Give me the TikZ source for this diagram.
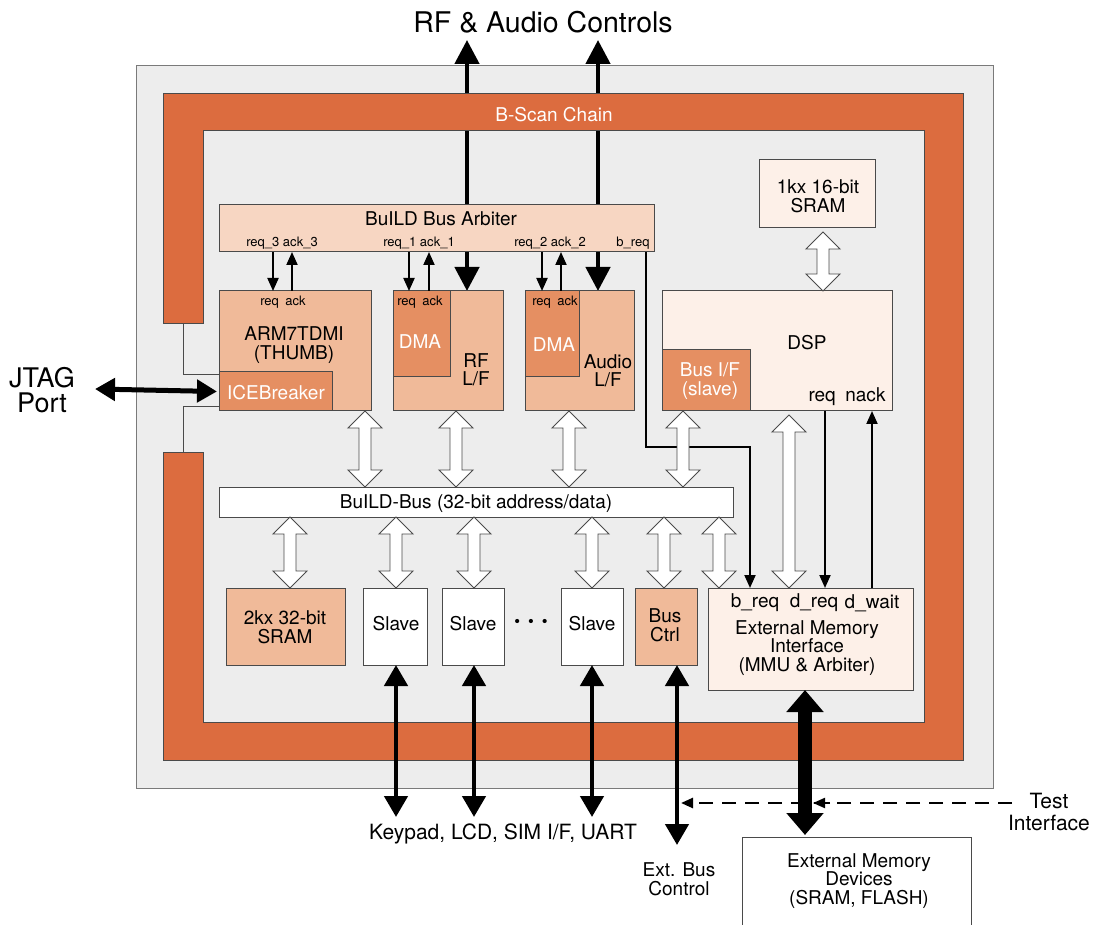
\documentclass[tikz,border=0pt]{standalone}
\usepackage{fontspec}
\setmainfont{TeX Gyre Heros}
\usetikzlibrary{arrows.meta,calc}
\definecolor{bggrey}{HTML}{EDEDED}
\definecolor{bscan}{HTML}{DC6C3F}
\definecolor{arbfill}{HTML}{F7D6C2}
\definecolor{midfill}{HTML}{F0BA99}
\definecolor{darkfill}{HTML}{E58F62}
\definecolor{lightfill}{HTML}{FDF0E8}
\definecolor{edge}{HTML}{4A4A4A}
\definecolor{chipedge}{HTML}{7A7A7A}
\tikzset{
  blk/.style={draw=edge, line width=1pt, anchor=north west, inner sep=0pt, outer sep=0pt},
  txt/.style={inner sep=0pt, align=center, text=black, font=\fontsize{19}{18.5}\selectfont},
  wtxt/.style={txt, text=white},
  smalltxt/.style={inner sep=0pt, align=center, font=\fontsize{13}{13}\selectfont},
  sarrow/.style={line width=2pt, -{Triangle[width=11pt,length=13pt]}},
  barrow/.style={line width=4.5pt, {Triangle[width=24pt,length=24pt]}-{Triangle[width=24pt,length=24pt]}},
  bbarrow/.style={line width=4.5pt, {Triangle[width=23pt,length=21pt]}-{Triangle[width=23pt,length=21pt]}},
  wda/.style={draw=edge, fill=white, line width=0.9pt, line join=miter},
  thinline/.style={draw=edge, line width=1pt},
}
\newcommand{\mkbox}[6]{\node[blk,fill=#2,minimum width={(#5-#3)*1pt},minimum height={(#6-#4)*1pt}] (#1) at (#3,#4) {};}
\newcommand{\wdar}[2]{%
  \path #1 coordinate (wdt) #2 coordinate (wdb);
  \draw[wda] (wdt) -- ++(17,17) -- ++(-11,0) -- ($(wdb)+(6,-17)$) -- ++(11,0) -- (wdb)
     -- ++(-17,-17) -- ++(11,0) -- ($(wdt)+(-6,17)$) -- ++(-11,0) -- cycle;}
\begin{document}
\begin{tikzpicture}[x=1pt,y=-1pt]
\useasboundingbox (0,0) rectangle (1096,925);
\fill[white] (0,0) rectangle (1096,925);
% chip
\node[blk,draw=chipedge,fill=bggrey,minimum width=857pt,minimum height=722pt] (chip) at (136,66) {};
% RF & audio controls (behind scan chain and arbiter)
\node[inner sep=0pt,font=\fontsize{28.5}{28}\selectfont] (rfac) at (543,22) {RF \& Audio Controls};
\coordinate (rftop) at (467,40);
\coordinate (autop) at (598,40);
\coordinate (rfbot) at (467,291);
\coordinate (aubot) at (598,291);
\draw[barrow] (rftop) -- (rfbot);
\draw[barrow] (autop) -- (aubot);
% B-scan chain frame
\draw[draw=edge,line width=1pt,fill=bscan] (203,324) -- (163,324) -- (163,94) -- (963,94) -- (963,760)
  -- (163,760) -- (163,453) -- (203,453) -- (203,722) -- (924,722) -- (924,131) -- (203,131) -- cycle;
\node[wtxt] (bsl) at (554,115) {B-Scan Chain};
\coordinate (bsA) at (183,324);
\coordinate (bsB) at (183,453);
% blocks
\mkbox{arb}{arbfill}{219}{205}{654}{252}
\mkbox{arm}{midfill}{219}{291}{371}{411}
\mkbox{ice}{darkfill}{219}{372}{332}{411}
\mkbox{rf}{midfill}{393}{291}{503}{411}
\mkbox{rfdma}{darkfill}{393}{291}{450}{377}
\mkbox{au}{midfill}{525}{291}{634}{411}
\mkbox{audma}{darkfill}{525}{291}{579}{377}
\mkbox{sramk}{lightfill}{759}{160}{875}{228}
\mkbox{dsp}{lightfill}{662}{291}{892}{411}
\mkbox{busif}{darkfill}{662}{350}{750}{411}
\mkbox{bus}{white}{219}{487}{733}{517}
\mkbox{sram}{midfill}{226}{588}{345}{665}
\mkbox{sl1}{white}{363}{588}{427}{665}
\mkbox{sl2}{white}{442}{588}{504}{665}
\mkbox{sl3}{white}{561}{588}{623}{665}
\mkbox{bctl}{midfill}{635}{588}{697}{665}
\mkbox{emi}{lightfill}{708}{588}{913}{690}
\mkbox{xmem}{white}{742}{837}{971}{940}
% ICEBreaker scan links
\draw[thinline] (bsA) |- ([yshift=17pt]ice.west);
\draw[thinline] (bsB) |- ([yshift=-15pt]ice.west);
% JTAG
\node[inner sep=0pt,align=center,font=\fontsize{27}{24.5}\selectfont] (jtag) at (42,390) {JTAG\\Port};
\coordinate (jtagend) at (95,389);
\draw[line width=5pt,{Triangle[width=22pt,length=20pt]}-{Triangle[width=22pt,length=20pt]}] (jtagend) -- ([xshift=-2pt]ice.west);
% req / ack arrows
\draw[sarrow] (273,0 |- arb.south) -- (273,0 |- arm.north);
\draw[sarrow] (292,0 |- arm.north) -- (292,0 |- arb.south);
\draw[sarrow] (409,0 |- arb.south) -- (409,0 |- rfdma.north);
\draw[sarrow] (429,0 |- rfdma.north) -- (429,0 |- arb.south);
\draw[sarrow] (542,0 |- arb.south) -- (542,0 |- audma.north);
\draw[sarrow] (561,0 |- audma.north) -- (561,0 |- arb.south);
% b_req path
\draw[sarrow] (646,0 |- arb.south) -- (646,447) -| (750,0 |- emi.north);
% DSP req/nack
\draw[sarrow] (825,0 |- dsp.south) -- (825,0 |- emi.north);
\draw[sarrow] (872,0 |- emi.north) -- (872,0 |- dsp.south);
% white double arrows
\wdar{(365,0 |- arm.south)}{(365,0 |- bus.north)}
\wdar{(456,0 |- rf.south)}{(456,0 |- bus.north)}
\wdar{(569,0 |- au.south)}{(569,0 |- bus.north)}
\wdar{(683,0 |- busif.south)}{(683,0 |- bus.north)}
\wdar{(823,232)}{(823,0 |- dsp.north)}
\wdar{(789,415)}{(789,0 |- emi.north)}
\wdar{(290,0 |- bus.south)}{(290,0 |- sram.north)}
\wdar{(396,0 |- bus.south)}{(396,0 |- sl1.north)}
\wdar{(474,0 |- bus.south)}{(474,0 |- sl2.north)}
\wdar{(592,0 |- bus.south)}{(592,0 |- sl3.north)}
\wdar{(664,0 |- bus.south)}{(664,0 |- bctl.north)}
\wdar{(719,0 |- bus.south)}{(719,0 |- emi.north)}
% test interface dashed
\node[txt,font=\fontsize{21}{21}\selectfont] (test) at (1049,812) {Test\\Interface};
\coordinate (testst) at (1012,803);
\coordinate (testx) at (681,803);
\draw[line width=2.5pt,dash pattern=on 14pt off 9pt,-{Triangle[width=10pt,length=12pt]}] (testst) -- (testx);
% bottom black arrows
\coordinate (k1) at (396,817);
\coordinate (k2) at (474,817);
\coordinate (k3) at (592,817);
\coordinate (xb) at (677,845);
\coordinate (xm) at (805,835);
\draw[bbarrow] (396,0 |- sl1.south) -- (k1);
\draw[bbarrow] (474,0 |- sl2.south) -- (k2);
\draw[bbarrow] (592,0 |- sl3.south) -- (k3);
\draw[bbarrow] (677,0 |- bctl.south) -- (xb);
\draw[line width=14pt,{Triangle[width=36pt,length=22pt]}-{Triangle[width=36pt,length=22pt]}] (805,0 |- emi.south) -- (xm);
\draw[line width=2pt,-{Triangle[width=10pt,length=12pt]}] (830,803) -- (813,803);
% texts
\node[txt] (arbt) at (441,219) {BuILD Bus Arbiter};
\node[smalltxt] (ra3) at (282,243) {req\_3 ack\_3};
\node[smalltxt] (ra1) at (419,243) {req\_1 ack\_1};
\node[smalltxt] (ra2) at (550,243) {req\_2 ack\_2};
\node[smalltxt] (breq) at (633,243) {b\_req};
\node[smalltxt] (armra) at (283,302) {req\enspace ack};
\node[smalltxt] (rfra) at (420,302) {req\enspace ack};
\node[smalltxt] (aura) at (555,302) {req\enspace ack};
\node[txt] (armt) at (294,345) {ARM7TDMI\\(THUMB)};
\node[wtxt] (icet) at (276,393) {ICEBreaker};
\node[wtxt] (rfdmat) at (420,342) {DMA};
\node[wtxt] (audmat) at (554,345) {DMA};
\node[txt] (rft) at (476,370) {RF\\L/F};
\node[txt] (aut) at (608,371) {Audio\\L/F};
\node[txt] (sramkt) at (818,196) {1kx 16-bit\\SRAM};
\node[txt] (dspt) at (807,343) {DSP};
\node[wtxt] (busift) at (710,381) {Bus I/F\\(slave)};
\node[txt] (dspra) at (847,397) {req\enspace nack};
\node[txt] (bust) at (476,504) {BuILD-Bus (32-bit address/data)};
\node[txt] (sramt) at (285,627) {2kx 32-bit\\SRAM};
\node[txt] (sl1t) at (396,624) {Slave};
\node[txt] (sl2t) at (473,624) {Slave};
\node[txt] (sl3t) at (592,624) {Slave};
\node[inner sep=0pt,font=\bfseries\fontsize{28}{28}\selectfont] (dots) at (531,624) {·\hspace{6pt}·\hspace{6pt}·};
\node[txt] (bctlt) at (665,625) {Bus\\Ctrl};
\node[txt] (emib) at (755,603) {b\_req};
\node[txt] (emid) at (814,603) {d\_req};
\node[txt] (emiw) at (872,603) {d\_wait};
\node[txt] (emit) at (807,648) {External Memory\\Interface\\(MMU \& Arbiter)};
\node[inner sep=0pt,font=\fontsize{21}{21}\selectfont] (kpd) at (503,834) {Keypad, LCD, SIM I/F, UART};
\node[txt] (xbt) at (679,879) {Ext. Bus\\Control};
\node[txt] (xmemt) at (859,881) {External Memory\\Devices\\(SRAM, FLASH)};
\end{tikzpicture}
\end{document}
